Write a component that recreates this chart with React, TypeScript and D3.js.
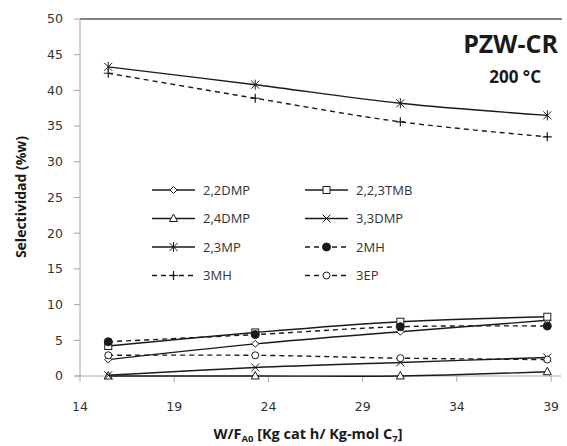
import * as d3 from "d3";

const xValues = [15.5, 23.3, 31.0, 38.8];
const seriesNames = ["2,2DMP", "2,2,3TMB", "2,4DMP", "3,3DMP", "2,3MP", "2MH", "3MH", "3EP"];
const v22DMP = [2.3, 4.5, 6.2, 7.8];
const v223TMB = [4.2, 6.1, 7.6, 8.3];
const v24DMP = [0, 0, 0, 0.6];
const v33DMP = [0.1, 1.2, 1.9, 2.6];
const v23MP = [43.3, 40.8, 38.2, 36.5];
const v2MH = [4.8, 5.8, 6.9, 7.0];
const v3MH = [42.4, 38.9, 35.6, 33.5];
const v3EP = [2.9, 2.9, 2.5, 2.3];
const xTicks = [14, 19, 24, 29, 34, 39];
const yTicks = [0, 5, 10, 15, 20, 25, 30, 35, 40, 45, 50];

type Marker = "diamond" | "square" | "triangle" | "x" | "star" | "dot" | "plus" | "circle";

const series: { name: string; values: number[]; marker: Marker; dashed: boolean }[] = [
  { name: seriesNames[0], values: v22DMP, marker: "diamond", dashed: false },
  { name: seriesNames[1], values: v223TMB, marker: "square", dashed: false },
  { name: seriesNames[2], values: v24DMP, marker: "triangle", dashed: false },
  { name: seriesNames[3], values: v33DMP, marker: "x", dashed: false },
  { name: seriesNames[4], values: v23MP, marker: "star", dashed: false },
  { name: seriesNames[5], values: v2MH, marker: "dot", dashed: true },
  { name: seriesNames[6], values: v3MH, marker: "plus", dashed: true },
  { name: seriesNames[7], values: v3EP, marker: "circle", dashed: true },
];

const INK = "#1a1a1a";
const FONT = "'Open Sans', 'DejaVu Sans', sans-serif";
const TICK_FONT = "'DejaVu Sans', sans-serif";

function MarkerShape({ type, x, y }: { type: Marker; x: number; y: number }) {
  const s = { stroke: INK, strokeWidth: 1, fill: "#fff" };
  switch (type) {
    case "diamond":
      return <path d={`M${x},${y - 3.5}L${x + 3.5},${y}L${x},${y + 3.5}L${x - 3.5},${y}Z`} {...s} />;
    case "square":
      return <rect x={x - 3.5} y={y - 3.5} width={7} height={7} {...s} />;
    case "triangle":
      return <path d={`M${x},${y - 4.5}L${x + 4},${y + 3}L${x - 4},${y + 3}Z`} {...s} />;
    case "x":
      return <path d={`M${x - 4},${y - 4}L${x + 4},${y + 4}M${x - 4},${y + 4}L${x + 4},${y - 4}`} stroke={INK} strokeWidth={1} />;
    case "star":
      return (
        <path
          d={`M${x - 4},${y - 4}L${x + 4},${y + 4}M${x - 4},${y + 4}L${x + 4},${y - 4}M${x},${y - 5}L${x},${y + 5}`}
          stroke={INK}
          strokeWidth={1}
        />
      );
    case "plus":
      return <path d={`M${x - 4.5},${y}L${x + 4.5},${y}M${x},${y - 4.5}L${x},${y + 4.5}`} stroke={INK} strokeWidth={1.2} />;
    case "dot":
      return <circle cx={x} cy={y} r={4} fill={INK} stroke={INK} />;
    case "circle":
      return <circle cx={x} cy={y} r={3.5} {...s} />;
  }
}

export default function App() {
  const W = 567, H = 446;
  const x = d3.scaleLinear().domain([14, 39.5]).range([80, 560.5]);
  const y = d3.scaleLinear().domain([0, 50]).range([376, 19]);

  const line = d3
    .line<number>()
    .x((_, i) => x(xValues[i]))
    .y((d) => y(d))
    .curve(d3.curveCatmullRom.alpha(0.5));

  const legendCols = [152, 305];
  const legendRows = [190, 218.5, 247, 275.5];

  return (
    <svg width={W} height={H} style={{ position: "absolute", left: 0, top: 0, background: "#fff" }} fontFamily={FONT}>
      <rect width={W} height={H} fill="#fff" />
      {/* top border */}
      <line x1={80} x2={562} y1={19} y2={19} stroke="#595959" strokeWidth={1.5} />
      {/* y axis */}
      <line x1={80} x2={80} y1={19} y2={376} stroke="#a6a6a6" strokeWidth={1} />
      {yTicks.map((t) => (
        <g key={t}>
          <line x1={74} x2={80} y1={y(t)} y2={y(t)} stroke="#a6a6a6" />
          <text x={63} y={y(t)} dy="0.35em" textAnchor="end" fontSize={12.5} fill="#333" fontFamily={TICK_FONT}>
            {t}
          </text>
        </g>
      ))}
      {/* x axis */}
      <line x1={75} x2={561} y1={376} y2={376} stroke="#a6a6a6" strokeWidth={1} />
      {xTicks.map((t) => (
        <g key={t}>
          <line x1={x(t)} x2={x(t)} y1={376} y2={382} stroke="#a6a6a6" />
          <text x={x(t)} y={407} dy="0.35em" textAnchor="middle" fontSize={12.5} fill="#333" fontFamily={TICK_FONT}>
            {t}
          </text>
        </g>
      ))}
      {/* axis titles */}
      <text x={308} y={439} textAnchor="middle" fontSize={14.5} fontWeight="bold" fill={INK}>
        W/F
        <tspan fontSize={9.5} dy={3}>A0</tspan>
        <tspan dy={-3}> [Kg cat h/ Kg-mol C</tspan>
        <tspan fontSize={9.5} dy={3}>7</tspan>
        <tspan dy={-3}>]</tspan>
      </text>
      <text
        transform={`translate(26,197) rotate(-90)`}
        textAnchor="middle"
        fontSize={14}
        fontWeight="bold"
        fill={INK}
      >
        Selectividad (%w)
      </text>
      {/* title */}
      <text x={558} y={53} textAnchor="end" fontSize={25} fontWeight="bold" fill={INK}>
        PZW-CR
      </text>
      <text x={541} y={83} textAnchor="end" fontSize={17} fontWeight="bold" fill={INK}>
        200 °C
      </text>
      {/* series */}
      {series.map((s) => (
        <g key={s.name}>
          <path
            d={line(s.values) || ""}
            fill="none"
            stroke={INK}
            strokeWidth={1.4}
            strokeDasharray={s.dashed ? "5,4" : undefined}
          />
          {s.values.map((v, i) => (
            <MarkerShape key={i} type={s.marker} x={x(xValues[i])} y={y(v)} />
          ))}
        </g>
      ))}
      {/* legend */}
      {series.map((s, i) => {
        const lx = legendCols[i % 2];
        const ly = legendRows[Math.floor(i / 2)];
        return (
          <g key={s.name}>
            <line
              x1={lx}
              x2={lx + 43}
              y1={ly}
              y2={ly}
              stroke={INK}
              strokeWidth={1.4}
              strokeDasharray={s.dashed ? "5,4" : undefined}
            />
            <MarkerShape type={s.marker} x={lx + 21.5} y={ly} />
            <text x={lx + 51} y={ly} dy="0.35em" fontSize={13} fill="#333">
              {s.name}
            </text>
          </g>
        );
      })}
    </svg>
  );
}
